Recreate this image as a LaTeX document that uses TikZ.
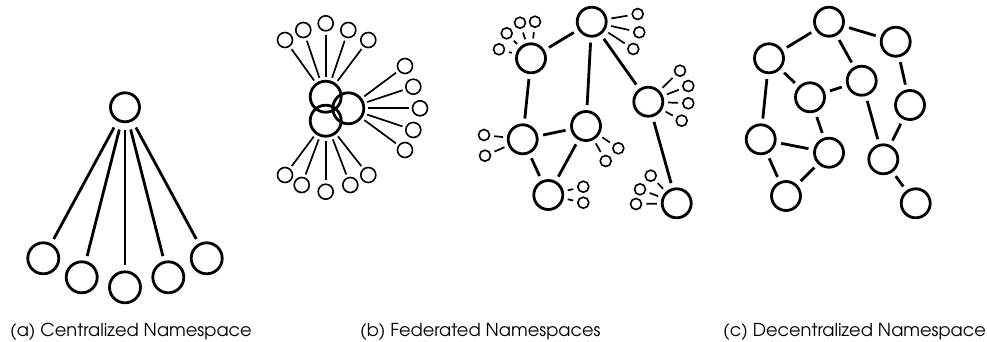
\documentclass[tikz,border=0pt]{standalone}
\usepackage{fontspec}
\setmainfont{TeX Gyre Adventor}
\begin{document}
\begin{tikzpicture}[x=1pt,y=-1pt,
  big/.style={circle,draw,line width=2.8pt,minimum size=29pt,inner sep=0pt},
  bigA/.style={circle,draw,line width=2.8pt,minimum size=31pt,inner sep=0pt},
  sm/.style={circle,draw,line width=1.6pt,minimum size=15pt,inner sep=0pt},
  tiny/.style={circle,draw,line width=1.6pt,minimum size=11pt,inner sep=0pt},
  edge/.style={line width=2.8pt,shorten <=5pt,shorten >=5pt},
  edgeA/.style={line width=2.8pt,shorten <=7pt,shorten >=5pt},
  spoke/.style={line width=1.7pt,shorten <=3pt,shorten >=3pt},
  leaf/.style={line width=1.7pt,shorten <=4pt,shorten >=4pt},
  captxt/.style={anchor=base west,inner sep=0pt,font=\fontsize{17.8}{20}\selectfont}
]
\useasboundingbox (0,0) rectangle (987,341);

% ---------- (a) centralized ----------
\node[big] (a0) at (125,107.3) {};
\node[bigA] (a1) at (43.3,258.3) {};
\node[bigA] (a2) at (81.7,277.3) {};
\node[bigA] (a3) at (125,287.3) {};
\node[bigA] (a4) at (168.3,277.3) {};
\node[bigA] (a5) at (206.7,258.3) {};
\foreach \i in {1,...,5} \draw[edgeA] (a0) -- (a\i);

% ---------- (b) federated ----------
\node[bigA] (bA) at (325.7,96.7) {};
\node[bigA] (bB) at (348.3,108.3) {};
\node[bigA] (bC) at (325.7,120.7) {};
\foreach \n/\x/\y in {t1/285/40, t2/303.3/30, t3/325.7/23.3, t4/348.3/30, t5/368.3/40}
  {\node[sm] (b\n) at (\x,\y) {}; \draw[spoke] (b\n) -- (bA);}
\foreach \n/\x/\y in {r1/405/66, r2/413.3/86.7, r3/420/108.3, r4/413.3/130, r5/405/150}
  {\node[sm] (b\n) at (\x,\y) {}; \draw[spoke] (b\n) -- (bB);}
\foreach \n/\x/\y in {d1/285/175, d2/301.7/185, d3/325.7/191.7, d4/350.3/185, d5/368.3/175}
  {\node[sm] (b\n) at (\x,\y) {}; \draw[spoke] (b\n) -- (bC);}

% ---------- (b) federated, network part ----------
\node[big] (n1) at (591.7,21.7) {};
\node[big] (n2) at (531,58.3) {};
\node[big] (n3) at (648.3,101.7) {};
\node[big] (n4) at (522.7,139.3) {};
\node[big] (n5) at (586,126) {};
\node[big] (n6) at (548.3,195) {};
\node[big] (n7) at (676.7,203.3) {};
\draw[edge] (n1) -- (n2);
\draw[edge] (n1) -- (n5);
\draw[edge] (n1) -- (n3);
\draw[edge] (n2) -- (n4);
\draw[edge] (n4) -- (n5);
\draw[edge] (n4) -- (n6);
\draw[edge] (n5) -- (n6);
\draw[edge] (n3) -- (n7);
\foreach \n/\p/\x/\y in {
  s11/n1/637.7/14, s12/n1/639.3/32.3, s13/n1/633.3/49,
  s21/n2/499/49.3, s22/n2/506.7/33.3, s23/n2/520/22.7, s24/n2/535/21.7,
  s31/n3/680/70.7, s32/n3/688.3/86, s33/n3/688.3/103.3, s34/n3/681.7/120.7,
  s41/n4/484/135, s42/n4/485/155.7,
  s51/n5/618.3/148.3, s52/n5/605.7/161,
  s61/n6/583.3/186.7, s62/n6/583.3/202.7,
  s71/n7/650.7/175.7, s72/n7/640/189.3, s73/n7/636/204}
  {\node[tiny] (\n) at (\x,\y) {}; \draw[leaf] (\n) -- (\p);}

% ---------- (c) decentralized ----------
\node[big] (d1) at (829,21.7) {};
\node[big] (d2) at (769,58.3) {};
\node[big] (d3) at (895.7,41.7) {};
\node[big] (d4) at (861.7,80.7) {};
\node[big] (d5) at (810,97.3) {};
\node[big] (d6) at (910,105) {};
\node[big] (d7) at (760.7,139.3) {};
\node[big] (d8) at (829,152.7) {};
\node[big] (d9) at (883.3,159.3) {};
\node[big] (d10) at (786,196) {};
\node[big] (d11) at (915.7,203.3) {};
\foreach \u/\v in {d1/d2, d1/d3, d1/d4, d2/d5, d2/d7, d5/d4, d5/d8, d3/d6,
  d4/d9, d6/d9, d7/d8, d7/d10, d8/d10, d9/d11}
  \draw[edge] (\u) -- (\v);

% ---------- captions ----------
\node[captxt] (ca) at (10,336) {(a) Centralized Namespace};
\node[captxt] (cb) at (360,336) {(b) Federated Namespaces};
\node[captxt] (cc) at (723,336) {(c) Decentralized Namespace};
\end{tikzpicture}
\end{document}
